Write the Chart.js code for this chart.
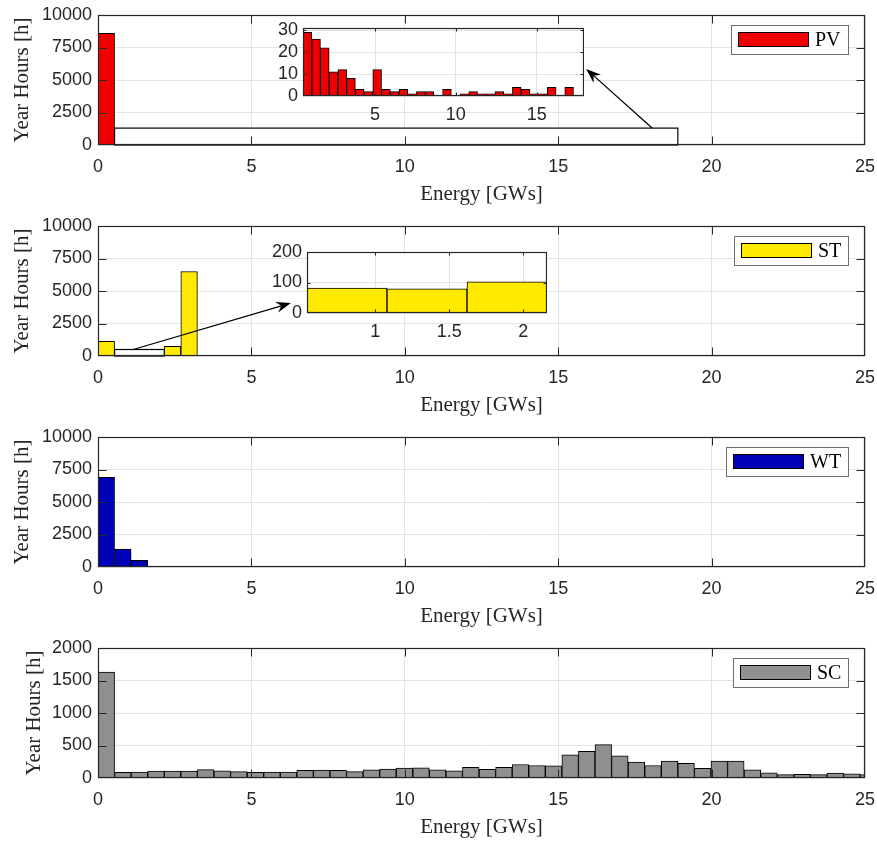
<!DOCTYPE html>
<html>
<head>
<meta charset="utf-8">
<title>Energy histograms</title>
<script src="https://cdn.jsdelivr.net/npm/chart.js@4.4.1/dist/chart.umd.min.js"></script>
<style>
  body { margin: 0; background: #fff; }
  #fig { position: relative; width: 877px; height: 841px; overflow: hidden; }
  #fig canvas { position: absolute; }
</style>
</head>
<body>
<div id="fig">
  <canvas id="pvChart" width="877" height="211" style="left:0;top:0"></canvas>
  <canvas id="stChart" width="877" height="211" style="left:0;top:211px"></canvas>
  <canvas id="wtChart" width="877" height="211" style="left:0;top:422px"></canvas>
  <canvas id="scChart" width="877" height="211" style="left:0;top:633px"></canvas>
  <canvas id="pvZoom" width="321" height="102" style="left:263px;top:18px"></canvas>
  <canvas id="stZoom" width="288" height="95" style="left:259px;top:242px"></canvas>
</div>
<script>
// every histogram uses 0.54 GW bins starting at 0
const binWidth = 0.54;

const energyTicks = [0, 5, 10, 15, 20, 25];
const hourTicks = [0, 2500, 5000, 7500, 10000];
const scHourTicks = [0, 500, 1000, 1500, 2000];

// hours per year spent in each energy bin
const pvHours = [8594, 29, 26, 22, 11, 12, 8, 3, 2, 12, 3, 2, 3, 1, 2, 2, 0, 3, 0, 1, 2, 1, 1, 2, 1, 4, 3, 1, 1, 4, 0, 4];
const stHours = [1130, 82, 79, 102, 740, 6500];
const wtHours = [6900, 1370, 510, 50];
const scHours = [1630, 86, 92, 105, 105, 105, 130, 112, 97, 86, 90, 90, 117, 122, 117, 97, 127, 137, 152, 158,
                 127, 112, 163, 135, 163, 208, 193, 188, 356, 412, 513, 340, 244, 193, 259, 224, 147, 259, 259,
                 127, 81, 51, 56, 51, 76, 66, 51];

// detail views
const pvZoomXTicks = [5, 10, 15];
const pvZoomYTicks = [0, 10, 20, 30];
const stZoomXTicks = [1, 1.5, 2];
const stZoomYTicks = [0, 100, 200];

const ink = '#262626';
const gridColor = '#e3e3e3';
const tickFont = { family: '"Liberation Sans", Arial, sans-serif', size: 18 };
const labelFont = { family: '"Liberation Serif", "Times New Roman", serif', size: 21 };

const binPoints = (vals, first = 0) => vals.map((v, i) => ({ x: (first + i + 0.5) * binWidth, y: v }));
const fixedTicks = values => scale => { scale.ticks = values.map(v => ({ value: v })); };

// white plot background (insets sit on top of the big axes)
const plotFill = {
    id: 'plotFill',
    beforeDraw(chart) {
        const { ctx, chartArea: a } = chart;
        ctx.save();
        ctx.fillStyle = '#fff';
        ctx.fillRect(a.left, a.top, a.right - a.left, a.bottom - a.top);
        ctx.restore();
    }
};

// boxed axes with inward tick marks on all four sides
const axesBox = {
    id: 'axesBox',
    afterDraw(chart, args, opts) {
        const { ctx, chartArea: a, scales: { x, y } } = chart;
        const len = opts.tickLen || 8;
        const L = Math.round(a.left) + 0.5, R = Math.round(a.right) - 0.5;
        const T = Math.round(a.top) + 0.5, B = Math.round(a.bottom) - 0.5;
        ctx.save();
        ctx.strokeStyle = ink;
        ctx.lineWidth = 1;
        ctx.beginPath();
        x.ticks.forEach(t => {
            const px = Math.round(x.getPixelForValue(t.value)) + 0.5;
            if (px <= L + 1 || px >= R - 1) return;
            ctx.moveTo(px, B); ctx.lineTo(px, B - len);
            ctx.moveTo(px, T); ctx.lineTo(px, T + len);
        });
        y.ticks.forEach(t => {
            const py = Math.round(y.getPixelForValue(t.value)) + 0.5;
            if (py <= T + 1 || py >= B - 1) return;
            ctx.moveTo(L, py); ctx.lineTo(L + len, py);
            ctx.moveTo(R, py); ctx.lineTo(R - len, py);
        });
        ctx.stroke();
        ctx.lineWidth = 1.2;
        ctx.strokeRect(L, T, R - L, B - T);
        ctx.restore();
    }
};

// legend box in the upper right corner
const keyBox = {
    id: 'keyBox',
    afterDraw(chart) {
        const ds = chart.data.datasets[0];
        const { ctx, chartArea: a } = chart;
        ctx.save();
        ctx.font = '20px "Liberation Serif", serif';
        const tw = ctx.measureText(ds.label).width;
        const h = 29, w = 7 + 71 + 6 + tw + 7;
        const right = Math.round(a.right) - 17, top = Math.round(a.top) + 10, left = Math.round(right - w);
        ctx.fillStyle = '#fff';
        ctx.fillRect(left, top, right - left, h);
        ctx.strokeStyle = '#6e6e6e';
        ctx.lineWidth = 1;
        ctx.strokeRect(left + 0.5, top + 0.5, right - left, h);
        ctx.fillStyle = ds.backgroundColor;
        ctx.fillRect(left + 7, top + 7, 71, 15);
        ctx.strokeStyle = '#000';
        ctx.strokeRect(left + 7.5, top + 7.5, 70, 14);
        ctx.fillStyle = '#000';
        ctx.textBaseline = 'middle';
        ctx.fillText(ds.label, left + 84, top + h / 2 + 1);
        ctx.restore();
    }
};

// highlighted region (data units) with an arrow towards its detail view
const zoomCallout = {
    id: 'zoomCallout',
    afterDatasetsDraw(chart, args, opts) {
        if (!opts.box) return;
        const { ctx, scales: { x, y } } = chart;
        const [x0, x1, y0, y1] = opts.box;
        const l = x.getPixelForValue(x0), r = x.getPixelForValue(x1);
        const t = y.getPixelForValue(y1), b = y.getPixelForValue(y0);
        ctx.save();
        ctx.fillStyle = '#fff';
        ctx.fillRect(l, t, r - l, b - t);
        ctx.strokeStyle = '#000';
        ctx.lineWidth = 1.2;
        ctx.strokeRect(l, t, r - l, b - t);

        const sx = x.getPixelForValue(opts.from[0]), sy = y.getPixelForValue(opts.from[1]);
        const ex = x.getPixelForValue(opts.to[0]), ey = y.getPixelForValue(opts.to[1]);
        const ang = Math.atan2(ey - sy, ex - sx);
        const c = Math.cos(ang), s = Math.sin(ang);
        const headLen = 15, half = 5.5, notch = 10;
        ctx.lineWidth = 1.3;
        ctx.beginPath();
        ctx.moveTo(sx, sy);
        ctx.lineTo(ex - notch * c, ey - notch * s);
        ctx.stroke();
        ctx.fillStyle = '#000';
        ctx.beginPath();
        ctx.moveTo(ex, ey);
        ctx.lineTo(ex - headLen * c - half * s, ey - headLen * s + half * c);
        ctx.lineTo(ex - notch * c, ey - notch * s);
        ctx.lineTo(ex - headLen * c + half * s, ey - headLen * s - half * c);
        ctx.closePath();
        ctx.fill();
        ctx.restore();
    }
};

function barDataset(label, color, points) {
    return {
        label: label,
        data: points,
        backgroundColor: color,
        borderColor: '#000',
        borderWidth: 1,
        barThickness: 'flex',
        barPercentage: 1,
        categoryPercentage: 1
    };
}

function mainChart(id, label, color, hours, yMax, yTicks, yTitlePad, callout) {
    return new Chart(document.getElementById(id), {
        type: 'bar',
        data: { datasets: [barDataset(label, color, binPoints(hours))] },
        options: {
            responsive: false,
            animation: false,
            layout: { padding: { top: 15, right: 12, bottom: 0, left: 0 } },
            plugins: {
                legend: { display: false },
                tooltip: { enabled: false },
                zoomCallout: callout || {},
                axesBox: { tickLen: 8 }
            },
            scales: {
                x: {
                    type: 'linear', min: 0, max: 25, offset: false,
                    afterBuildTicks: fixedTicks(energyTicks),
                    afterFit: s => { s.height = 66; s.paddingLeft = 0; s.paddingRight = 0; },
                    grid: { color: gridColor, offset: false, drawTicks: false },
                    border: { display: false },
                    ticks: { font: tickFont, color: ink, padding: 11, maxRotation: 0, autoSkip: false, callback: v => String(v) },
                    title: { display: true, text: 'Energy [GWs]', font: labelFont, color: ink, padding: { top: 0, bottom: 4 } }
                },
                y: {
                    min: 0, max: yMax,
                    afterBuildTicks: fixedTicks(yTicks),
                    afterFit: s => { s.width = 98; s.paddingTop = 0; s.paddingBottom = 0; },
                    grid: { color: gridColor, drawTicks: false },
                    border: { display: false },
                    ticks: { font: tickFont, color: ink, padding: 6, autoSkip: false, callback: v => String(v) },
                    title: { display: true, text: 'Year Hours [h]', font: labelFont, color: ink, padding: { top: yTitlePad, bottom: 0 } }
                }
            }
        },
        plugins: [zoomCallout, axesBox, keyBox]
    });
}

function zoomChart(id, color, points, xMin, xMax, xTicks, yMax, yTicks, yAxisWidth) {
    return new Chart(document.getElementById(id), {
        type: 'bar',
        data: { datasets: [barDataset('', color, points)] },
        options: {
            responsive: false,
            animation: false,
            layout: { padding: { top: 10, right: 0, bottom: 0, left: 0 } },
            plugins: {
                legend: { display: false },
                tooltip: { enabled: false },
                axesBox: { tickLen: 3 }
            },
            scales: {
                x: {
                    type: 'linear', min: xMin, max: xMax, offset: false,
                    afterBuildTicks: fixedTicks(xTicks),
                    afterFit: s => { s.height = 24; s.paddingLeft = 0; s.paddingRight = 0; },
                    grid: { color: gridColor, offset: false, drawTicks: false },
                    border: { display: false },
                    ticks: { font: tickFont, color: ink, padding: 8, maxRotation: 0, autoSkip: false, callback: v => String(v) }
                },
                y: {
                    min: 0, max: yMax,
                    afterBuildTicks: fixedTicks(yTicks),
                    afterFit: s => { s.width = yAxisWidth; s.paddingTop = 0; s.paddingBottom = 0; },
                    grid: { color: gridColor, drawTicks: false },
                    border: { display: false },
                    ticks: { font: tickFont, color: ink, padding: 5, autoSkip: false, callback: v => String(v) }
                }
            }
        },
        plugins: [plotFill, axesBox]
    });
}

mainChart('pvChart', 'PV', '#ee0000', pvHours, 10000, hourTicks, 10,
    { box: [binWidth, 18.9, 0, 1300], from: [18.06, 1300], to: [15.91, 5850] });
mainChart('stChart', 'ST', '#ffe900', stHours, 10000, hourTicks, 10,
    { box: [binWidth, 4 * binWidth, 0, 500], from: [1.15, 500], to: [6.29, 4080] });
mainChart('wtChart', 'WT', '#0000b8', wtHours, 10000, hourTicks, 10);
mainChart('scChart', 'SC', '#8f8f8f', scHours, 2000, scHourTicks, 21.5);

zoomChart('pvZoom', '#ee0000', binPoints(pvHours.slice(1), 1), binWidth, 17.93, pvZoomXTicks, 31, pvZoomYTicks, 40);
zoomChart('stZoom', '#ffe900', binPoints(stHours.slice(1, 4), 1), binWidth, 4 * binWidth, stZoomXTicks, 200, stZoomYTicks, 48);
</script>
</body>
</html>
